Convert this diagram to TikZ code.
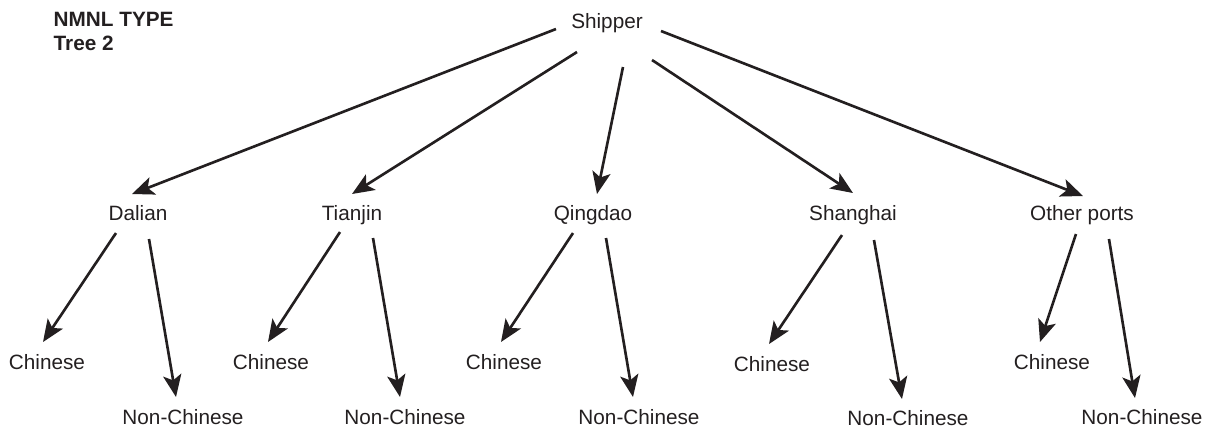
\documentclass[tikz,border=0pt]{standalone}
\usepackage{fontspec}
\setmainfont{Liberation Sans}
\usepackage{tikz}
\usetikzlibrary{calc,arrows.meta}
\definecolor{ink}{HTML}{231F20}
\def\drawarr{\draw[color=ink, line width=0.75pt, -{Stealth[length=6.3pt,width=5.2pt,inset=1.5pt]}]}
\def\labnode{\node[anchor=base,inner sep=0pt,text=ink,font=\fontsize{5.9}{7}\selectfont]}
\def\headnode{\node[anchor=base west,inner sep=0pt,text=ink,font=\fontsize{5.9}{7}\selectfont\bfseries]}

\begin{document}
\begin{tikzpicture}
\useasboundingbox (0,0) rectangle (12.17,-4.32);

% ---------- heading, top left
\headnode (title) at (0.53,-0.26) {NMNL TYPE};
\headnode (tree) at (0.53,-0.50) {Tree 2};

% ---------- root and the five ports (all at base line)
\labnode (ship) at (6.07,-0.28) {Shipper};
\labnode (dal) at (1.38,-2.20) {Dalian};
\labnode (tia) at (3.52,-2.20) {Tianjin};
\labnode (qin) at (5.93,-2.20) {Qingdao};
\labnode (sha) at (8.53,-2.20) {Shanghai};
\labnode (oth) at (10.82,-2.20) {Other ports};

% ---------- leaves: Chinese / Non-Chinese under each port
\labnode (dalc) at (0.47,-3.69) {Chinese};
\labnode (dalnc) at (1.83,-4.24) {Non-Chinese};
\labnode (tiac) at (2.71,-3.69) {Chinese};
\labnode (tianc) at (4.05,-4.24) {Non-Chinese};
\labnode (qinc) at (5.04,-3.69) {Chinese};
\labnode (qinnc) at (6.39,-4.24) {Non-Chinese};
\labnode (shac) at (7.72,-3.71) {Chinese};
\labnode (shanc) at (9.08,-4.25) {Non-Chinese};
\labnode (othc) at (10.52,-3.69) {Chinese};
\labnode (othnc) at (11.42,-4.24) {Non-Chinese};

% ---------- Shipper to the ports
\drawarr ($ (ship.base) + (-0.51,-0.01) $) to ($ (dal.base) + (-0.06,0.26) $);
\drawarr ($ (ship.base) + (-0.30,-0.24) $) to ($ (tia.base) + (0,0.26) $);
\drawarr ($ (ship.base) + (0.16,-0.39) $) to ($ (qin.base) + (0.04,0.26) $);
\drawarr ($ (ship.base) + (0.45,-0.32) $) to ($ (sha.base) + (0,0.27) $);
\drawarr ($ (ship.base) + (0.54,-0.03) $) to ($ (oth.base) + (0.01,0.24) $);

% ---------- ports to the leaves
\drawarr ($ (dal.base) + (-0.22,-0.13) $) to ($ (dalc.base) + (-0.04,0.27) $);
\drawarr ($ (dal.base) + (0.11,-0.19) $) to ($ (dalnc.base) + (-0.07,0.27) $);
\drawarr ($ (tia.base) + (-0.12,-0.12) $) to ($ (tiac.base) + (-0.03,0.27) $);
\drawarr ($ (tia.base) + (0.21,-0.18) $) to ($ (tianc.base) + (-0.05,0.27) $);
\drawarr ($ (qin.base) + (-0.20,-0.13) $) to ($ (qinc.base) + (-0.03,0.27) $);
\drawarr ($ (qin.base) + (0.13,-0.18) $) to ($ (qinnc.base) + (-0.06,0.27) $);
\drawarr ($ (sha.base) + (-0.11,-0.15) $) to ($ (shac.base) + (-0.03,0.27) $);
\drawarr ($ (sha.base) + (0.21,-0.20) $) to ($ (shanc.base) + (-0.06,0.26) $);
\drawarr ($ (oth.base) + (-0.06,-0.14) $) to ($ (othc.base) + (-0.12,0.27) $);
\drawarr ($ (oth.base) + (0.27,-0.19) $) to ($ (othnc.base) + (-0.07,0.26) $);
\end{tikzpicture}
\end{document}
